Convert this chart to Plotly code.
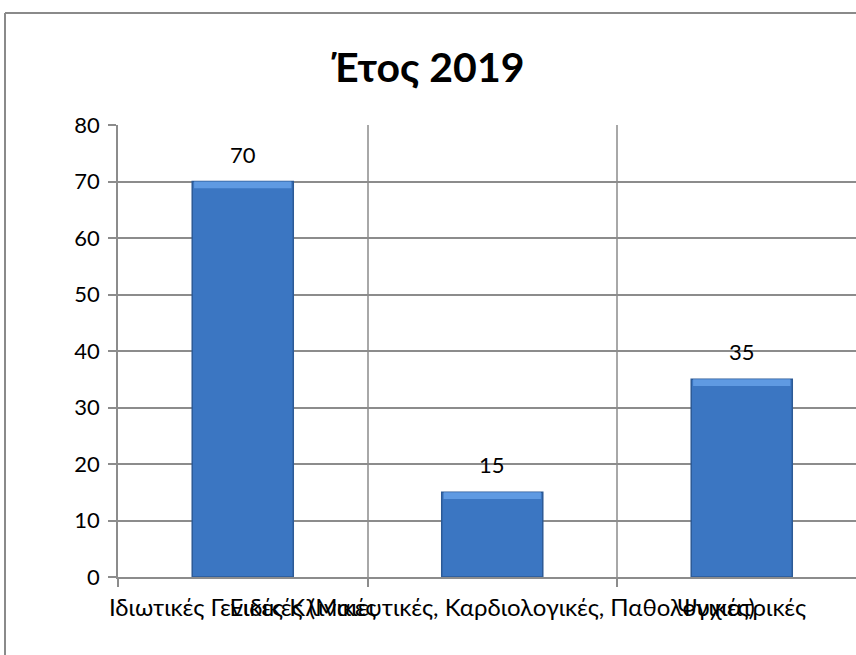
import plotly.graph_objects as go

# Chart data
title_text = "Έτος 2019"
categories = [
    "Ιδιωτικές Γενικές Κλινικές",
    "Ειδικές (Μαιευτικές, Καρδιολογικές, Παθολογικές)",
    "Ψυχιατρικές",
]
values = [70, 15, 35]
y_ticks = [0, 10, 20, 30, 40, 50, 60, 70, 80]

FONT = "Lato, 'Open Sans', sans-serif"
GRID = "#8c8c8c"
VGRID = "#a8a8a8"

W, H = 856, 655
M_L, M_R, M_T, M_B = 118, 0, 125, 78
plot_w = W - M_L - M_R
plot_h = H - M_T - M_B
cat_px = 249.5  # width of one category slot in pixels

fig = go.Figure()

# main bars
fig.add_trace(go.Bar(
    x=categories, y=values,
    marker=dict(color="#3b76c2", line=dict(color="#2c5a96", width=1.5)),
    width=0.405,
    hoverinfo="skip",
    showlegend=False,
))
# lighter bevel strip along the top of each bar
strip = 1.2
fig.add_trace(go.Bar(
    x=categories, y=[strip] * len(values), base=[v - strip for v in values],
    marker=dict(color="#5f9ae2", line=dict(width=0)),
    width=0.39,
    hoverinfo="skip",
    showlegend=False,
))

# value labels above the bars
for c, v in zip(categories, values):
    fig.add_annotation(
        x=c, y=v, text=str(v), showarrow=False,
        yanchor="bottom", yshift=12,
        font=dict(family=FONT, size=22, color="#000000"),
    )

# outer chart frame (left and top edges)
px_x = lambda p: (p - M_L) / plot_w
px_y = lambda p: (H - M_B - p) / plot_h
fig.add_shape(type="line", xref="paper", yref="paper",
              x0=px_x(5), x1=px_x(5), y0=px_y(13), y1=px_y(H + 20),
              line=dict(color="#8a8a8a", width=2))
fig.add_shape(type="line", xref="paper", yref="paper",
              x0=px_x(5), x1=px_x(W + 20), y0=px_y(13), y1=px_y(13),
              line=dict(color="#8a8a8a", width=2))

fig.update_layout(
    width=W, height=H,
    margin=dict(l=M_L, r=M_R, t=M_T, b=M_B),
    paper_bgcolor="white", plot_bgcolor="white",
    barmode="overlay",
    title=dict(text="<b>" + title_text + "</b>", x=0.5, xref="container",
               xanchor="center", y=1 - 68 / H, yanchor="middle",
               font=dict(family=FONT, size=41, color="#000000")),
    font=dict(family=FONT, size=22, color="#000000"),
)

fig.update_xaxes(
    type="category",
    range=[-0.5, -0.5 + plot_w / cat_px],
    tickson="boundaries",
    tickangle=0,
    showgrid=True, gridcolor=VGRID, gridwidth=1.5,
    showline=True, linecolor=GRID, linewidth=1.5,
    ticks="outside", ticklen=8, tickcolor=GRID, tickwidth=1.5,
    ticklabelstandoff=8,
    tickfont=dict(family=FONT, size=24, color="#000000"),
    fixedrange=True,
)
fig.update_yaxes(
    range=[0, 80],
    tickvals=y_ticks,
    showgrid=True, gridcolor=GRID, gridwidth=1.5,
    showline=True, linecolor=GRID, linewidth=1.5,
    ticks="outside", ticklen=8, tickcolor=GRID, tickwidth=1.5,
    ticklabelstandoff=4,
    tickfont=dict(family=FONT, size=22, color="#000000"),
    zeroline=False,
    fixedrange=True,
)

fig.write_html("out.html")
